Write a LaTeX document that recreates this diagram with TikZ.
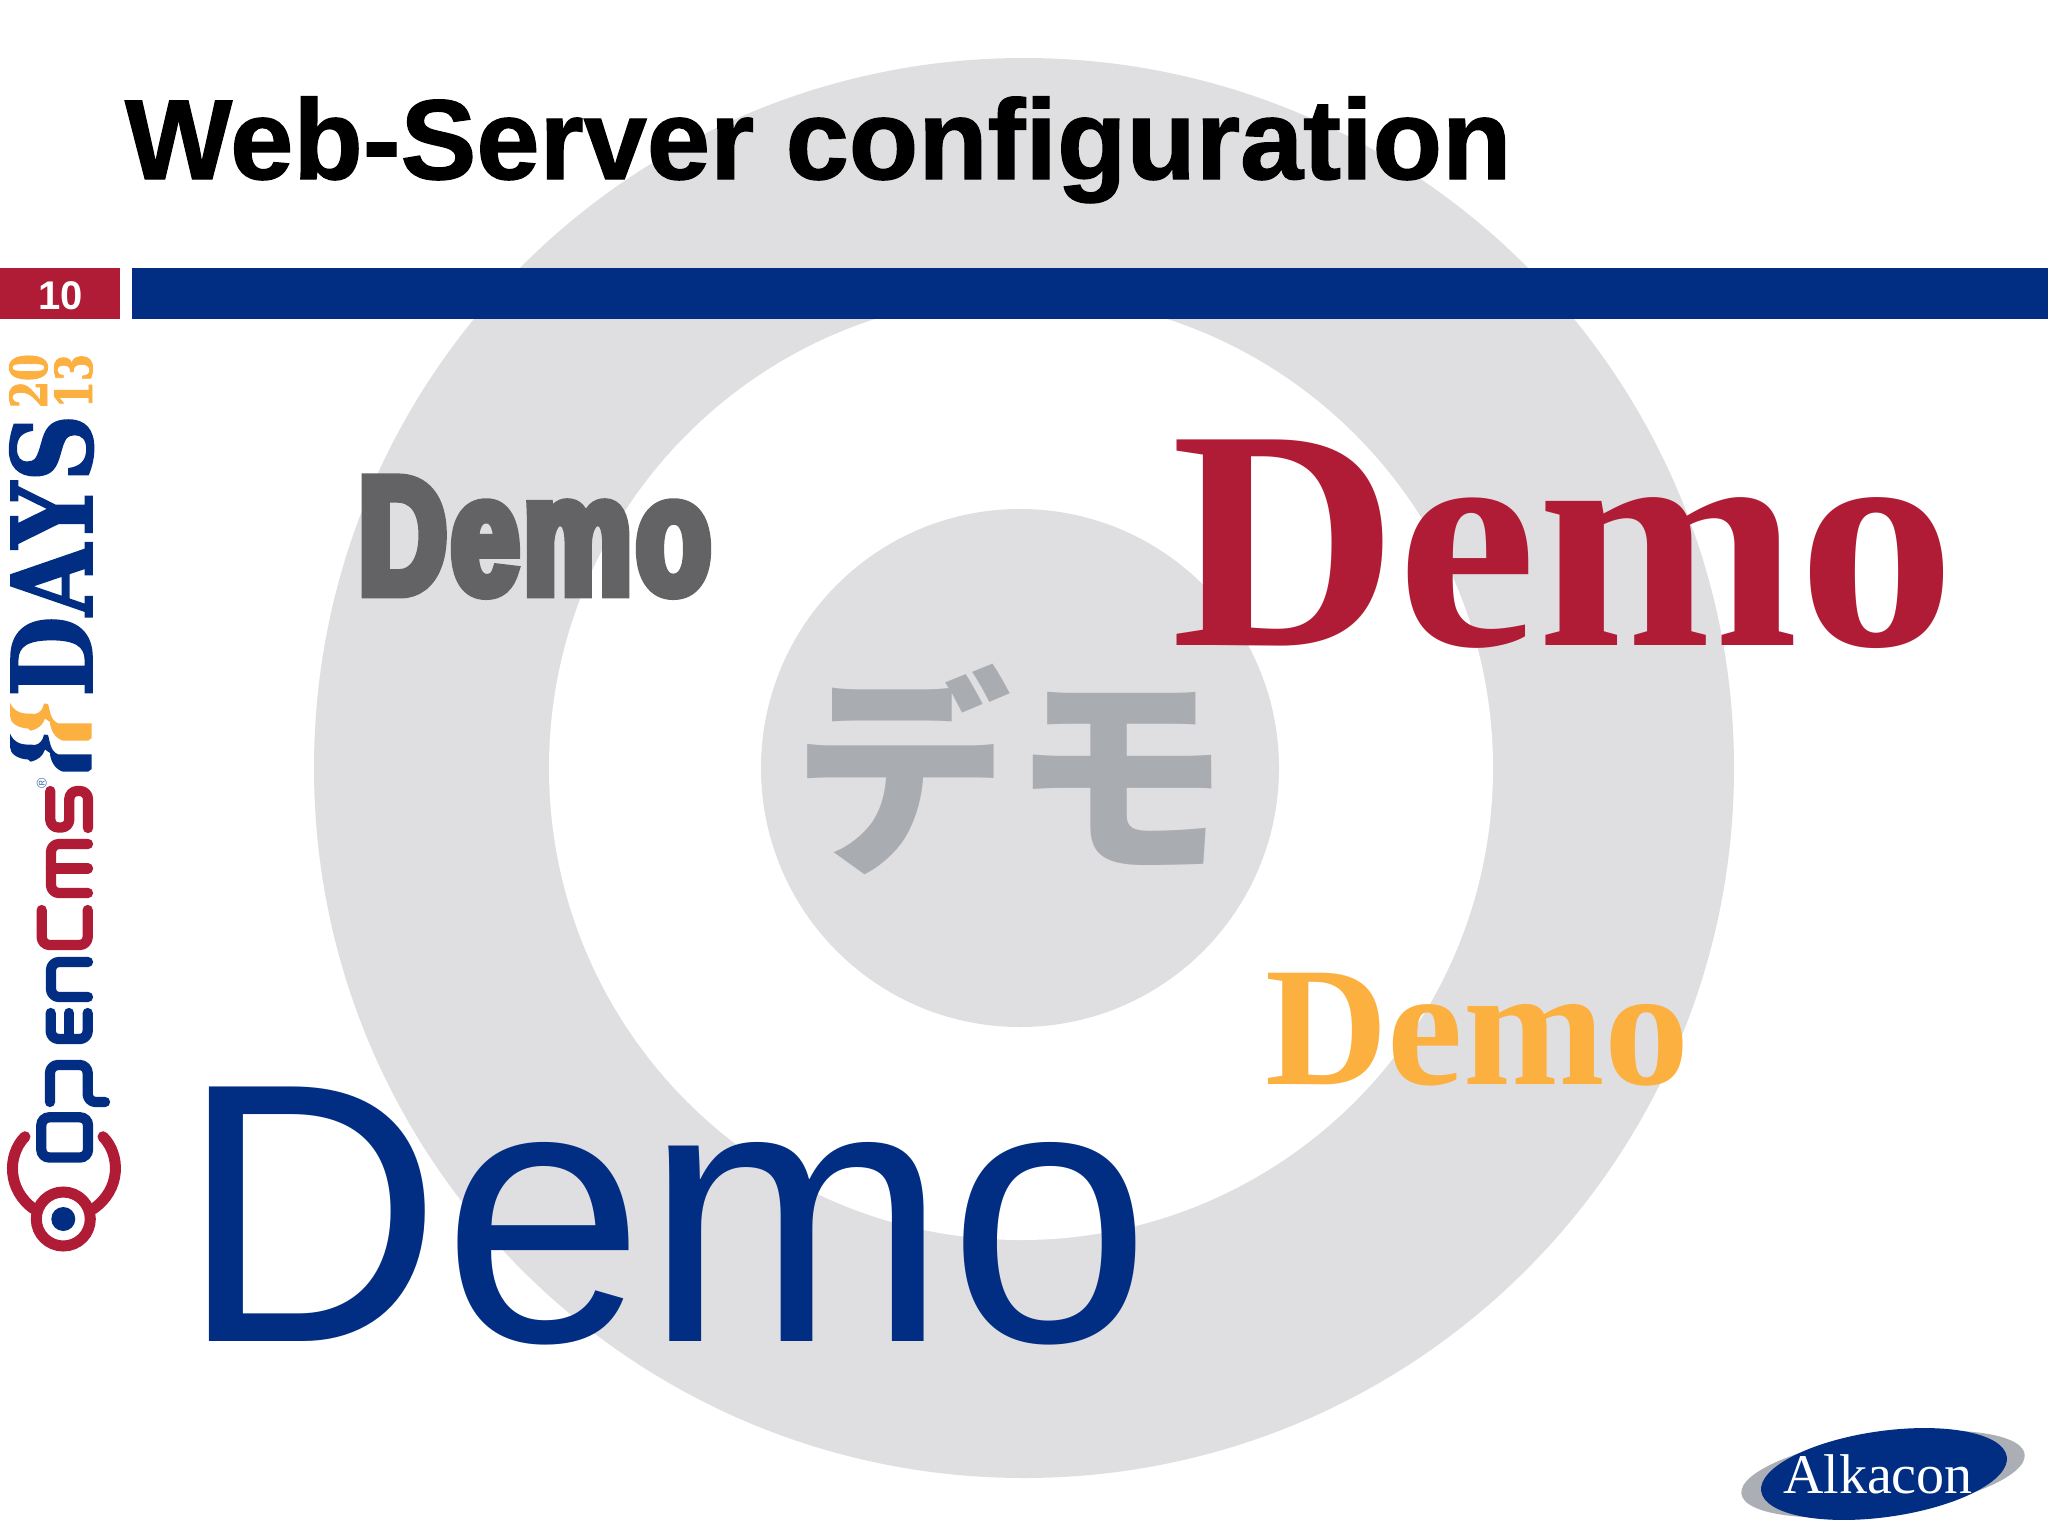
\documentclass[tikz,border=0pt]{standalone}
\usepackage{fontspec}
\setmainfont{Liberation Sans}
\newfontfamily\titlef[FakeBold=1.2]{Liberation Sans}
\newfontfamily\impactf[FakeStretch=.73,FakeBold=6.5,LetterSpace=3]{Liberation Sans}
\newfontfamily\bigf[FakeStretch=.985]{Liberation Sans}
\newfontfamily\serf{Liberation Serif}
\newfontfamily\slabf[FakeStretch=.84,FakeBold=1.5]{DejaVu Serif}
\newfontfamily\slabn[FakeStretch=.76,FakeBold=1.5]{DejaVu Serif}
\newfontfamily\cjkf{Noto Sans CJK JP}
\definecolor{ringgray}{HTML}{DFDFE1}
\definecolor{navy}{HTML}{012E83}
\definecolor{crim}{HTML}{B01C35}
\definecolor{amber}{HTML}{FBB040}
\definecolor{darkg}{HTML}{636265}
\definecolor{midg}{HTML}{A9ACB1}
\definecolor{ellg}{HTML}{ABAFB5}
\tikzset{
  txt/.style={inner sep=0pt,outer sep=0pt,anchor=base west},
  vtxt/.style={txt,rotate=90},
  logo/.style={line width=10.3pt,line cap=round,line join=round,rounded corners=#1},
  logo/.default=8pt
}
\newcommand{\fs}[1]{\fontsize{#1}{#1}\selectfont}
\begin{document}
\begin{tikzpicture}[x=1pt,y=-1pt]
\useasboundingbox (0,0) rectangle (2048,1536);
\fill[white] (0,0) rectangle (2048,1536);
% concentric rings
\fill[ringgray] (1024,768) circle[radius=710];
\fill[white] (1021,768) circle[radius=472];
\fill[ringgray] (1020,768) circle[radius=259];
% bars
\fill[crim] (0,268) rectangle (120,319);
\fill[navy] (132,268) rectangle (2048,319);
\node[txt,text=white] (pageno) at (38,309) {\fs{40}\bfseries 10};
\node[txt,text=black] (title) at (125,179) {\fs{113.6}\titlef\bfseries Web-Server configuration};
% Demos
\node[txt,text=darkg] (demoA) at (359,593) {\fs{166}\impactf\bfseries Demo};
\node[txt,text=crim] (demoB) at (1171,645) {\fs{314}\serf\bfseries Demo};
\node[txt,text=amber] (demoC) at (1265,1084) {\fs{170}\serf\bfseries Demo};
\node[txt,text=navy] (demoD) at (179,1341) {\fs{370}\bigf Demo};
\node[txt,text=midg] (demoJ) at (793,855) {\fs{218}\cjkf\bfseries デモ};
% sidebar wordmark
\node[vtxt,text=navy] (days) at (92,697) {\fs{111}\slabf\bfseries DAYS};
\node[vtxt,text=amber] (y20) at (47,408) {\fs{51}\slabn\bfseries 20};
\node[vtxt,text=amber] (y13) at (92,408) {\fs{51}\slabn\bfseries 13};
% braces
\foreach \c/\d in {amber/0,navy/31}{
\fill[\c,shift={(0,690+\d)}] (10,12.7) .. controls (14,21) and (20,24) .. (30,23.5)
  -- (35,24) .. controls (40,23) and (43,19) .. (44,13.5) -- (48,14)
  .. controls (50,20) and (50,30) .. (58,33.3) -- (91.7,33.3) -- (91.7,48) -- (88,50.7) -- (63,50.7)
  .. controls (54,48) and (50,38) .. (50,32) -- (45,28.5)
  .. controls (43,35) and (38,39) .. (30.7,40.7) -- (28,38.5)
  .. controls (18,38) and (10,33) .. (10,26) -- cycle;
}
\node[vtxt,anchor=center,text=navy!70!white] (reg) at (41.7,783) {\fs{14}®};
% opencms letters
\draw[logo,crim] (50.3,791) -- (50.3,827.5) -- (69.3,827.5) -- (69.3,791) -- (88,791) -- (88,828);
\draw[logo,crim] (88,844) -- (51,844) -- (51,893) -- (88,893);
\draw[crim,line width=10.3pt,line cap=round] (51,868.5) -- (88,868.5);
\draw[logo,crim] (41.7,910) -- (41.7,945) -- (87.7,945) -- (87.7,910);
\draw[logo,navy] (88,962) -- (51,962) -- (51,997) -- (88,997);
\draw[logo,navy] (50.7,1013) -- (50.7,1039) -- (87.7,1039) -- (87.7,1013);
\draw[navy,line width=10.3pt,line cap=round] (69,1013) -- (69,1036);
\draw[logo,navy] (50,1102) -- (50,1065) -- (87.7,1065) -- (87.7,1102) -- (105,1102);
\draw[navy,line width=10.3pt,rounded corners=8pt] (41.3,1117.3) rectangle (88,1157.5);
% head
\draw[crim,line width=11pt,line cap=round] (25,1136.7) .. controls (7,1155) and (7,1190) .. (34,1209);
\draw[crim,line width=11pt,line cap=round] (103,1136.7) .. controls (121,1155) and (121,1190) .. (93,1209);
\draw[crim,line width=11pt,fill=white] (63.3,1219) circle[radius=27];
\fill[navy] (63.3,1219) circle[radius=12];
% Alkacon
\fill[ellg,rotate around={8:(1883,1474)}] (1883,1474) ellipse[x radius=143,y radius=39];
\fill[navy,rotate around={8:(1884,1474)}] (1884,1474) ellipse[x radius=124,y radius=43];
\node[txt,text=white] (alk) at (1783,1493) {\fs{56}\serf Alkacon};
\end{tikzpicture}
\end{document}
